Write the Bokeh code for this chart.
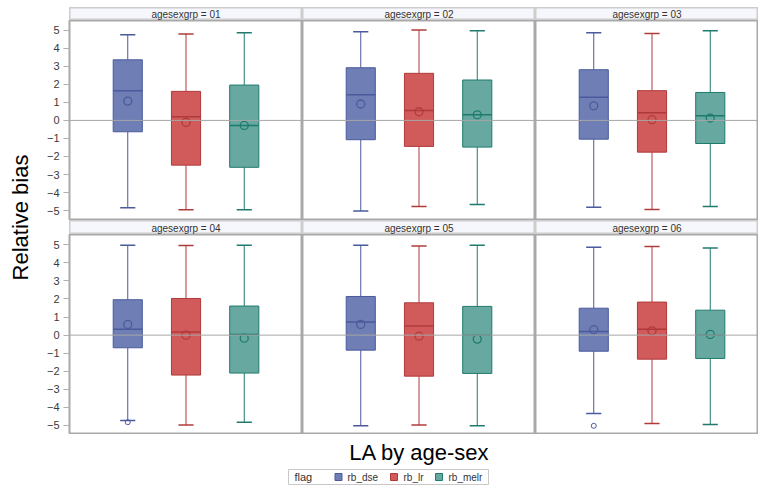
from bokeh.plotting import figure
from bokeh.layouts import row, column, Spacer
from bokeh.models import ColumnDataSource, FixedTicker, Span
from bokeh.core.properties import value
from bokeh.embed import file_html
from bokeh.resources import INLINE

# ---------------- data ----------------
groups = ["01", "02", "03", "04", "05", "06"]
series = ["rb_dse", "rb_lr", "rb_melr"]
y_ticks = [-5, -4, -3, -2, -1, 0, 1, 2, 3, 4, 5]
y_label = "Relative bias"
x_label = "LA by age-sex"
legend_title = "flag"

dse_low = [-4.84, -5.03, -4.81, -4.72, -5.02, -4.34]
dse_q1 = [-0.63, -1.07, -1.04, -0.70, -0.83, -0.89]
dse_med = [1.65, 1.42, 1.29, 0.33, 0.72, 0.20]
dse_mean = [1.07, 0.91, 0.81, 0.59, 0.59, 0.30]
dse_q3 = [3.36, 2.92, 2.81, 1.96, 2.14, 1.49]
dse_high = [4.75, 4.92, 4.86, 4.98, 4.98, 4.87]
dse_out = [[], [], [], [-4.82], [], [-5.02]]

lr_low = [-4.95, -4.77, -4.94, -4.98, -4.98, -4.89]
lr_q1 = [-2.48, -1.44, -1.76, -2.21, -2.27, -1.33]
lr_med = [0.20, 0.55, 0.43, 0.17, 0.50, 0.33]
lr_mean = [-0.11, 0.48, 0.04, 0.00, -0.06, 0.24]
lr_q3 = [1.61, 2.61, 1.65, 2.03, 1.79, 1.83]
lr_high = [4.79, 5.01, 4.82, 4.96, 4.94, 4.91]
lr_out = [[], [], [], [], [], []]

melr_low = [-4.95, -4.66, -4.77, -4.82, -5.02, -4.94]
melr_q1 = [-2.60, -1.48, -1.28, -2.10, -2.12, -1.29]
melr_med = [-0.28, 0.31, 0.26, 0.04, 0.00, 0.00]
melr_mean = [-0.28, 0.31, 0.13, -0.17, -0.22, 0.04]
melr_q3 = [1.96, 2.24, 1.55, 1.61, 1.59, 1.38]
melr_high = [4.86, 4.97, 4.97, 4.98, 4.98, 4.82]
melr_out = [[], [], [], [], [], []]

stats = {
    "rb_dse": dict(low=dse_low, q1=dse_q1, med=dse_med, mean=dse_mean, q3=dse_q3, high=dse_high, out=dse_out),
    "rb_lr": dict(low=lr_low, q1=lr_q1, med=lr_med, mean=lr_mean, q3=lr_q3, high=lr_high, out=lr_out),
    "rb_melr": dict(low=melr_low, q1=melr_q1, med=melr_med, mean=melr_mean, q3=melr_q3, high=melr_high, out=melr_out),
}

# ---------------- style / layout constants ----------------
FONT = "Liberation Sans"
fills = ["#6f7eb5", "#d15b5b", "#67a9a1"]
lines = ["#4a5a9c", "#b03a3a", "#1f7a6e"]
BOX_W = 0.5
CAP_HALF = 0.13
PX_PER_UNIT_X = 58.25

LABEL_W = 38
LEFT = 31
TOP_PAD = 7
frame_ws = [233, 233, 223]
row_heights = [200, 200]
strip_heights = [13, 14]
y_ranges = [(-5.55, 5.54), (-5.50, 5.57)]

# legend layout (screen px inside the bottom strip figure)
LEG_BOX = (288, 488, 35, 50)
LEG_TITLE_X = 294
LEG_SWATCH_X = [338, 393.5, 438.5]
LEG_LABEL_X = [347, 403, 448]


def bare_fig(width, height, xr, yr):
    f = figure(width=width, height=height, x_range=xr, y_range=yr,
               output_backend="svg", toolbar_location=None,
               x_axis_location=None, y_axis_location=None,
               min_border_left=0, min_border_right=0, min_border_top=0, min_border_bottom=0)
    f.grid.visible = False
    f.outline_line_color = None
    f.background_fill_color = "white"
    f.border_fill_color = "white"
    return f


def make_panel(gi, width, frame_w, height, yr, left_axis):
    xmax = frame_w / PX_PER_UNIT_X
    p = figure(width=width, height=height, x_range=(0, xmax), y_range=yr,
               output_backend="svg", toolbar_location=None,
               x_axis_location=None, y_axis_location="left" if left_axis else None,
               min_border_left=(width - frame_w) if left_axis else 0,
               min_border_right=0, min_border_top=0, min_border_bottom=0)
    p.grid.visible = False
    p.outline_line_color = "#a9a9a9"
    p.outline_line_width = 2
    p.background_fill_color = "white"
    p.border_fill_color = "white"
    if left_axis:
        ax = p.yaxis[0]
        ax.ticker = FixedTicker(ticks=y_ticks)
        ax.axis_line_color = None
        ax.major_tick_line_color = "#b0b0b0"
        ax.major_tick_out = 6
        ax.major_tick_in = 0
        ax.minor_tick_line_color = None
        ax.major_label_standoff = 4
        ax.major_label_text_font = FONT
        ax.major_label_text_font_size = "11px"
        ax.major_label_text_color = "#3a3a3a"
    for si, s in enumerate(series):
        st = stats[s]
        x = si + 1
        src = ColumnDataSource(dict(
            x=[x], xl=[x - CAP_HALF], xr=[x + CAP_HALF],
            bl=[x - BOX_W / 2], br=[x + BOX_W / 2],
            low=[st["low"][gi]], q1=[st["q1"][gi]], med=[st["med"][gi]],
            mean=[st["mean"][gi]], q3=[st["q3"][gi]], high=[st["high"][gi]]))
        lc = lines[si]
        p.segment(x0="x", y0="low", x1="x", y1="q1", source=src, line_color=lc, line_width=1)
        p.segment(x0="x", y0="q3", x1="x", y1="high", source=src, line_color=lc, line_width=1)
        p.segment(x0="xl", y0="low", x1="xr", y1="low", source=src, line_color=lc, line_width=1.5)
        p.segment(x0="xl", y0="high", x1="xr", y1="high", source=src, line_color=lc, line_width=1.5)
        p.vbar(x="x", width=BOX_W, top="q3", bottom="q1", source=src,
               fill_color=fills[si], line_color=lc, line_width=1)
        p.segment(x0="bl", y0="med", x1="br", y1="med", source=src, line_color=lc, line_width=1.5)
        p.scatter(x="x", y="mean", source=src, marker="circle", size=8,
                  fill_color=None, line_color=lc, line_width=1.3)
        outs = st["out"][gi]
        if outs:
            p.scatter(x=[x] * len(outs), y=outs, marker="circle", size=5,
                      fill_color=None, line_color=lc, line_width=1)
    p.add_layout(Span(location=0, dimension="width", line_color="#a6a6a6",
                      line_width=1, level="overlay"))
    return p


def make_strip(label, width, height):
    s = bare_fig(width, height, (0, 1), (0, 1))
    s.background_fill_color = "#f6f7fc"
    s.outline_line_color = "#cdcdcd"
    s.outline_line_width = 2
    s.text(x=[0.5], y=[0.45], text=[label], text_font=value(FONT), text_font_size="10px",
           text_align="center", text_baseline="middle", text_color="#333333")
    return s


rows = [Spacer(width=LEFT + sum(frame_ws), height=TOP_PAD)]
for r in range(2):
    strips = [Spacer(width=LEFT, height=strip_heights[r])]
    panels = []
    for c in range(3):
        gi = r * 3 + c
        strips.append(make_strip("agesexgrp = " + groups[gi], frame_ws[c], strip_heights[r]))
        w = frame_ws[c] + (LEFT if c == 0 else 0)
        panels.append(make_panel(gi, w, frame_ws[c], row_heights[r], y_ranges[r], c == 0))
    rows.append(row(*strips))
    rows.append(row(*panels))
grid = column(*rows)

total_h = TOP_PAD + sum(row_heights) + sum(strip_heights)
lab = bare_fig(LABEL_W, total_h, (0, LABEL_W), (0, total_h))
lab.text(x=[20], y=[total_h - 217], text=[y_label], angle=1.5707963, text_font=value(FONT),
         text_font_size="22px", text_align="center", text_baseline="middle", text_color="#000000")

total_w = LABEL_W + LEFT + sum(frame_ws)
BOT_H = 53
bot = bare_fig(total_w, BOT_H, (0, total_w), (BOT_H, 0))
bot.text(x=[419], y=[18], text=[x_label], text_font=value(FONT), text_font_size="22px",
         text_align="center", text_baseline="middle", text_color="#000000")

# legend drawn inside the bottom figure
l, rgt, t, b = LEG_BOX
bot.quad(left=[l], right=[rgt], top=[t], bottom=[b], fill_color="white",
         line_color="#c8c8c8", line_width=1)
ymid = (t + b) / 2
bot.text(x=[LEG_TITLE_X], y=[ymid], text=[legend_title], text_font=value(FONT),
         text_font_size="11px", text_align="left", text_baseline="middle", text_color="#333333")
bot.rect(x=LEG_SWATCH_X, y=[ymid] * len(series), width=7, height=7,
         width_units="screen", height_units="screen",
         fill_color=fills, line_color=lines, line_width=1)
bot.text(x=LEG_LABEL_X, y=[ymid] * len(series), text=series, text_font=value(FONT),
         text_font_size="10px", text_align="left", text_baseline="middle", text_color="#333333")

layout = column(row(lab, grid), bot)
open("out.html", "w").write(file_html(layout, INLINE))
